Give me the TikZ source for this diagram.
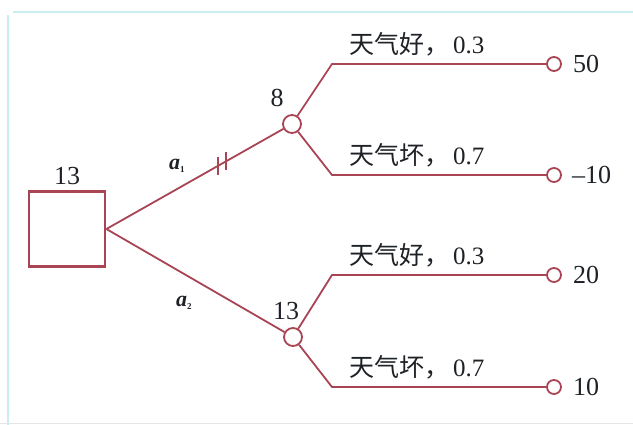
\documentclass[tikz,border=0pt]{standalone}
\usepackage{fontspec}
\setmainfont{Liberation Serif}
\newfontfamily\cjk{Noto Sans CJK SC}
\definecolor{lc}{RGB}{168,68,84}
\definecolor{tc}{RGB}{30,34,38}
\definecolor{fr}{RGB}{200,238,242}
\begin{document}
\begin{tikzpicture}[x=1pt,y=-1pt,
  ln/.style={draw=lc,line width=1.8pt},
  decbox/.style={draw=lc,line width=2.8pt,minimum width=76pt,minimum height=75pt,inner sep=0pt},
  chance/.style={circle,draw=lc,line width=1.8pt,fill=white,minimum size=18pt,inner sep=0pt},
  leaf/.style={circle,draw=lc,line width=1.8pt,fill=white,minimum size=14pt,inner sep=0pt},
  num/.style={text=tc,font=\fontsize{26}{26}\selectfont,inner sep=0pt},
  lab/.style={text=tc,font=\fontsize{25}{25}\selectfont,inner sep=0pt,anchor=base west},
  act/.style={text=tc,font=\fontsize{22}{22}\selectfont\bfseries\itshape,inner sep=0pt}]
\useasboundingbox (0,0) rectangle (633,425);
\fill[white] (0,0) rectangle (633,425);
% faint frame
\draw[fr,line width=1.5pt] (13,12) -- (633,12);
\draw[fr,line width=1.5pt] (8,15) -- (8,425);
\draw[gray!20,line width=1pt] (0,423) -- (633,423);
% nodes
\node[decbox] (sq) at (67,229) {};
\node[num] (v0) at (67,176) {13};
\node[chance] (c1) at (292,124) {};
\node[chance] (c2) at (293,337) {};
\node[num] (v1) at (277,98) {8};
\node[num] (v2) at (286,311) {13};
\coordinate (k1) at (332,64);
\coordinate (k2) at (332,175);
\coordinate (k3) at (332,275);
\coordinate (k4) at (332,387);
\node[leaf] (e1) at (554,64) {};
\node[leaf] (e2) at (554,175) {};
\node[leaf] (e3) at (554,275) {};
\node[leaf] (e4) at (554,387) {};
\node[num,anchor=west] (r1) at (573,64) {50};
\node[num,anchor=west] (r2) at (572,175) {–10};
\node[num,anchor=west] (r3) at (573,275) {20};
\node[num,anchor=west] (r4) at (573,387) {10};
% connectors
\draw[ln] (sq.east) -- (c1);
\draw[ln] (sq.east) -- (c2);
\draw[ln] (c1) -- (k1) -- (e1);
\draw[ln] (c1) -- (k2) -- (e2);
\draw[ln] (c2) -- (k3) -- (e3);
\draw[ln] (c2) -- (k4) -- (e4);
% double tick on a1
\coordinate (t1) at (218,166);
\coordinate (t2) at (226,161);
\draw[lc,line width=2pt] ([yshift=-9pt]t1) -- ([yshift=9pt]t1);
\draw[lc,line width=2pt] ([yshift=-9pt]t2) -- ([yshift=9pt]t2);
% action labels
\node[act] (a1) at (177,166) {a\textsubscript{\fontsize{9}{9}\selectfont\upshape 1}};
\node[act] (a2) at (184,303) {a\textsubscript{\fontsize{9}{9}\selectfont\upshape 2}};
% branch labels
\node[lab] (l1) at (349,54) {{\cjk 天气好，}\hspace{4pt}0.3};
\node[lab] (l2) at (349,165) {{\cjk 天气坏，}\hspace{4pt}0.7};
\node[lab] (l3) at (349,265) {{\cjk 天气好，}\hspace{4pt}0.3};
\node[lab] (l4) at (349,377) {{\cjk 天气坏，}\hspace{4pt}0.7};
\end{tikzpicture}
\end{document}
